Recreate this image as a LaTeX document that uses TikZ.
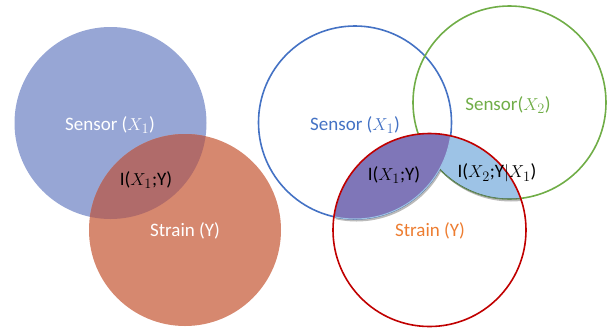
\documentclass[tikz,border=0pt]{standalone}
\usepackage{fontspec}
\setmainfont{Carlito}
\usepackage{xcolor}
\usetikzlibrary{positioning}
\definecolor{softblue}{HTML}{97A6D5}
\definecolor{softorange}{HTML}{D6886F}
\definecolor{overlap}{HTML}{B06B6A}
\definecolor{ringblue}{HTML}{4472C4}
\definecolor{ringgreen}{HTML}{70AD47}
\definecolor{ringred}{HTML}{C00000}
\definecolor{txtorange}{HTML}{ED7D31}
\definecolor{lensviolet}{HTML}{7F76B8}
\definecolor{lenssky}{HTML}{9DC3E6}

\begin{document}
\begin{tikzpicture}[
    x=1pt, y=-1pt,
    lbl/.style={font=\fontsize{19}{22}\selectfont, inner sep=0pt},
    ring/.style={line width=1.6pt},
    shade/.style={fill=black!60, opacity=0.45}
]
    \useasboundingbox (0,0) rectangle (616,333);

    % Left: filled Venn
    \fill[softblue] (110.5,123) circle[radius=96pt];
    \fill[softorange] (185,230) circle[radius=96pt];
    \begin{scope}
        \clip (110.5,123) circle[radius=96pt];
        \fill[overlap] (185,230) circle[radius=96pt];
    \end{scope}
    \node[lbl, text=white] (sensorA) at (110,125) {Sensor ($X_1$)};
    \node[lbl] (infoA) at (146,180) {I($X_1$;Y)};
    \node[lbl, text=white] (strainA) at (185,231) {Strain (Y)};

    % Right: outlined Venn with shaded regions
    \draw[ring, ringblue] (355,122.5) circle[radius=96.5pt];
    \draw[ring, ringgreen] (509.5,102.5) circle[radius=96.5pt];

    % shadows
    \begin{scope}[shift={(1.5,2.5)}]
        \clip (429.5,230) circle[radius=96.5pt];
        \fill[shade] (355,122.5) circle[radius=96.5pt];
    \end{scope}
    \begin{scope}[shift={(1.5,2.5)}]
        \clip (429.5,230) circle[radius=96.5pt];
        \fill[shade] (509.5,102.5) circle[radius=96.5pt];
    \end{scope}

    % I(X2;Y|X1): green and red overlap
    \begin{scope}
        \clip (429.5,230) circle[radius=96.5pt];
        \clip (509.5,102.5) circle[radius=96.5pt];
        \fill[lenssky] (509.5,102.5) circle[radius=96.5pt];
        \draw[ringgreen!60!black, line width=1pt] (509.5,102.5) circle[radius=96.5pt];
    \end{scope}
    % I(X1;Y): blue and red overlap, on top
    \begin{scope}
        \clip (429.5,230) circle[radius=96.5pt];
        \fill[lensviolet] (355,122.5) circle[radius=96.5pt];
        \draw[lenssky, line width=1pt] (355,122.5) circle[radius=96.5pt];
    \end{scope}

    \draw[ring, ringred] (429.5,230) circle[radius=96.5pt];

    \node[lbl, text=ringblue] (sensorB) at (355,125) {Sensor ($X_1$)};
    \node[lbl, text=ringgreen] (sensorC) at (508,105) {Sensor($X_2$)};
    \node[lbl] (infoB) at (394,175) {I($X_1$;Y)};
    \node[lbl] (infoC) at (497,173) {I($X_2$;Y$|X_1$)};
    \node[lbl, text=txtorange] (strainB) at (430,231) {Strain (Y)};
\end{tikzpicture}
\end{document}
